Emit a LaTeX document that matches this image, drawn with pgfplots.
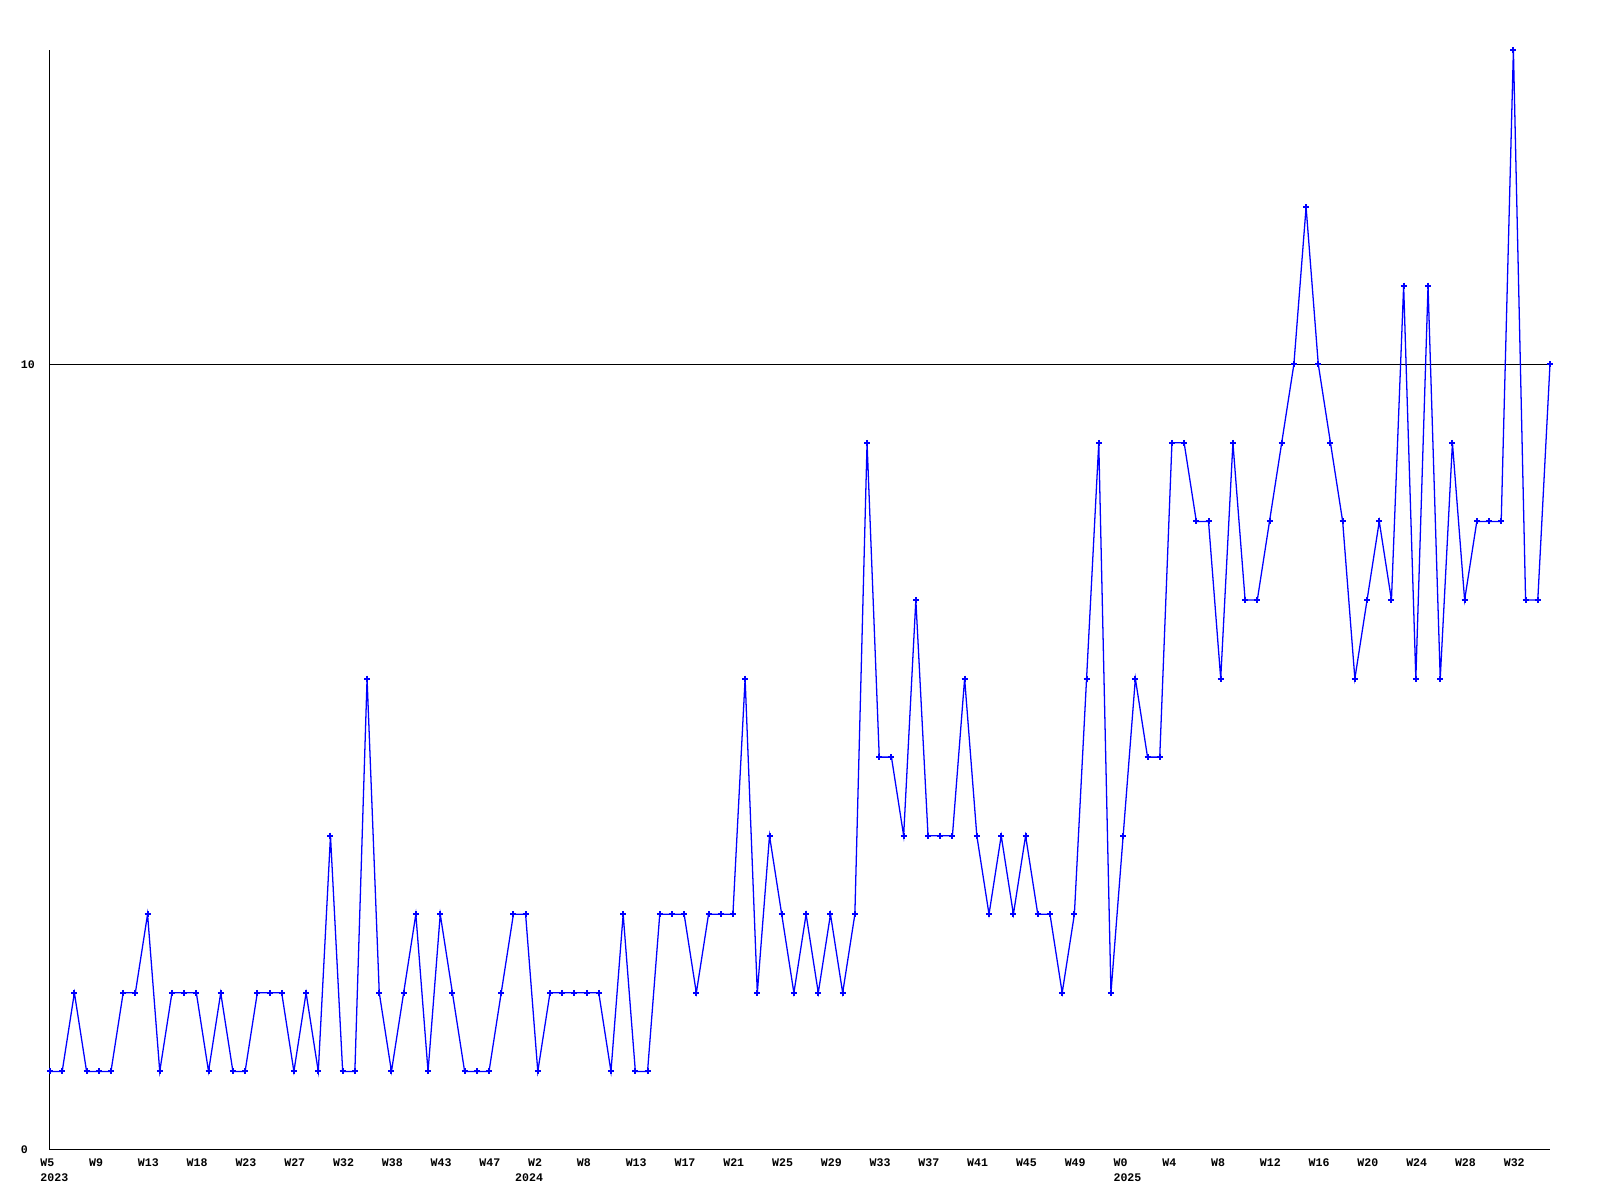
\documentclass[border=0pt]{standalone}
\usepackage{fontspec}
\setmainfont{Liberation Mono}
\usepackage{pgfplots}
\pgfplotsset{compat=1.18}
\begin{document}
\begin{tikzpicture}[x=1pt,y=1pt]
\useasboundingbox (-12.5,-12.5) rectangle (387.5,287.5);
\begin{axis}[at={(0,0)}, anchor=south west, scale only axis,
  width=375pt, height=275pt,
  xmin=0, xmax=123, ymin=0, ymax=14,
  axis x line=bottom, axis y line=left,
  axis line style={-, line width=0.25pt, black},
  xtick={0,4,...,120},
  xticklabels={W5\\2023,W9,W13,W18,W23,W27,W32,W38,W43,W47,W2\\\hspace*{-3.25pt}2024,W8,W13,W17,W21,W25,W29,W33,W37,W41,W45,W49,W0\\2025,W4,W8,W12,W16,W20,W24,W28,W32},
  ytick={0,10}, yticklabels={0,10},
  major tick length=0pt,
  ymajorgrids, major grid style={black, line width=0.25pt},
  xticklabel style={anchor=north west, align=left, inner sep=0pt, xshift=-2.6pt, yshift=-2.1pt,
    font=\fontsize{2.9pt}{3.6pt}\selectfont\bfseries},
  yticklabel style={anchor=west, inner sep=0pt, xshift=-7.5pt,
    font=\fontsize{2.9pt}{3.6pt}\selectfont\bfseries},
  clip=false,
]
\addplot[blue, line width=0.32pt, mark=+, mark size=0.75pt, mark options={line width=0.5pt}] table {
x y
0 1
1 1
2 2
3 1
4 1
5 1
6 2
7 2
8 3
9 1
10 2
11 2
12 2
13 1
14 2
15 1
16 1
17 2
18 2
19 2
20 1
21 2
22 1
23 4
24 1
25 1
26 6
27 2
28 1
29 2
30 3
31 1
32 3
33 2
34 1
35 1
36 1
37 2
38 3
39 3
40 1
41 2
42 2
43 2
44 2
45 2
46 1
47 3
48 1
49 1
50 3
51 3
52 3
53 2
54 3
55 3
56 3
57 6
58 2
59 4
60 3
61 2
62 3
63 2
64 3
65 2
66 3
67 9
68 5
69 5
70 4
71 7
72 4
73 4
74 4
75 6
76 4
77 3
78 4
79 3
80 4
81 3
82 3
83 2
84 3
85 6
86 9
87 2
88 4
89 6
90 5
91 5
92 9
93 9
94 8
95 8
96 6
97 9
98 7
99 7
100 8
101 9
102 10
103 12
104 10
105 9
106 8
107 6
108 7
109 8
110 7
111 11
112 6
113 11
114 6
115 9
116 7
117 8
118 8
119 8
120 14
121 7
122 7
123 10
};
\end{axis}
\end{tikzpicture}
\end{document}
